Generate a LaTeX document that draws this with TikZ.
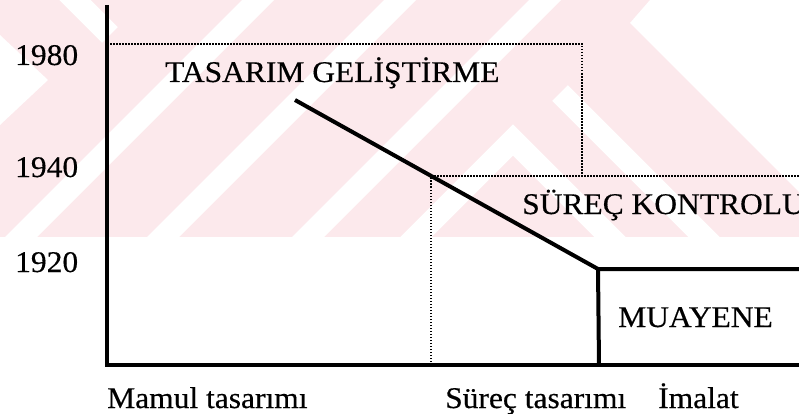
\documentclass[tikz,border=0pt]{standalone}
\usepackage{fontspec}
\setmainfont{Liberation Serif}[FakeStretch=1.05,FakeBold=0.4]
\definecolor{wm}{RGB}{252,233,236}
\tikzset{
  lbl/.style={inner sep=0pt, anchor=base west, font=\fontsize{30}{36}\selectfont},
  axisline/.style={line width=3.2pt},
  thickline/.style={line width=4pt},
  dotline/.style={line width=1.2pt, dash pattern=on 1.5pt off 1.5pt},
  wmstripe/.style={white, line width=22pt}
}
\begin{document}
\begin{tikzpicture}[x=1pt,y=-1pt]
\clip (0,0) rectangle (799,414);
\fill[white] (0,0) rectangle (799,414);
% watermark
\begin{scope}
  \clip (0,0) rectangle (799,237);
  \fill[wm] (0,0) rectangle (799,237);
  \foreach \c in {258,400,545} {
    \fill[white] (\c-16,0) -- (\c+16,0) -- (\c+16-237,237) -- (\c-16-237,237) -- cycle;
  }
  \fill[white] (0,35) -- (48,80) -- (0,125) -- cycle;
  \draw[wmstripe] (65,-10) -- (110,35);
  \draw[wmstripe] (406,247) -- (513,140) -- (620,247);
  \draw[wmstripe] (560,93) -- (714,247);
  \fill[white] (650,0) -- (799,0) -- (799,192) -- (630,23) -- cycle;
\end{scope}
% coordinates
\coordinate (top) at (107,5);
\coordinate (org) at (107,365);
\coordinate (xend) at (799,365);
\coordinate (d1) at (107,44);
\coordinate (d2) at (582,44);
\coordinate (d3) at (582,176);
\coordinate (d4) at (431,176);
\coordinate (d5) at (799,176);
\coordinate (d6) at (431,365);
\coordinate (t1) at (295,100);
\coordinate (t2) at (598,269);
\coordinate (t3) at (799,269);
\coordinate (t4) at (599,365);
% dotted boxes
\draw[dotline] (d1) -- (d2) -- (d3);
\draw[dotline] (d6) -- (d4) -- (d5);
% thick lines
\draw[thickline, line join=miter] (t1) -- (t2) -- (t3);
\draw[thickline] (t2) -- (t4);
% axes
\draw[axisline, line join=miter] (top) -- (org) -- (xend);
% labels
\node[lbl] (y1980) at (15,65) {1980};
\node[lbl] (y1940) at (15,177) {1940};
\node[lbl] (y1920) at (15,272) {1920};
\node[lbl] (tg) at (165,82) {TASARIM GELİŞTİRME};
\node[lbl] (sk) at (522,214) {SÜREÇ KONTROLU};
\node[lbl] (mu) at (618,327) {MUAYENE};
\node[lbl] (mt) at (107,408) {Mamul tasarımı};
\node[lbl] (st) at (445,408) {Süreç tasarımı};
\node[lbl] (im) at (658,408) {İmalat};
\end{tikzpicture}
\end{document}
